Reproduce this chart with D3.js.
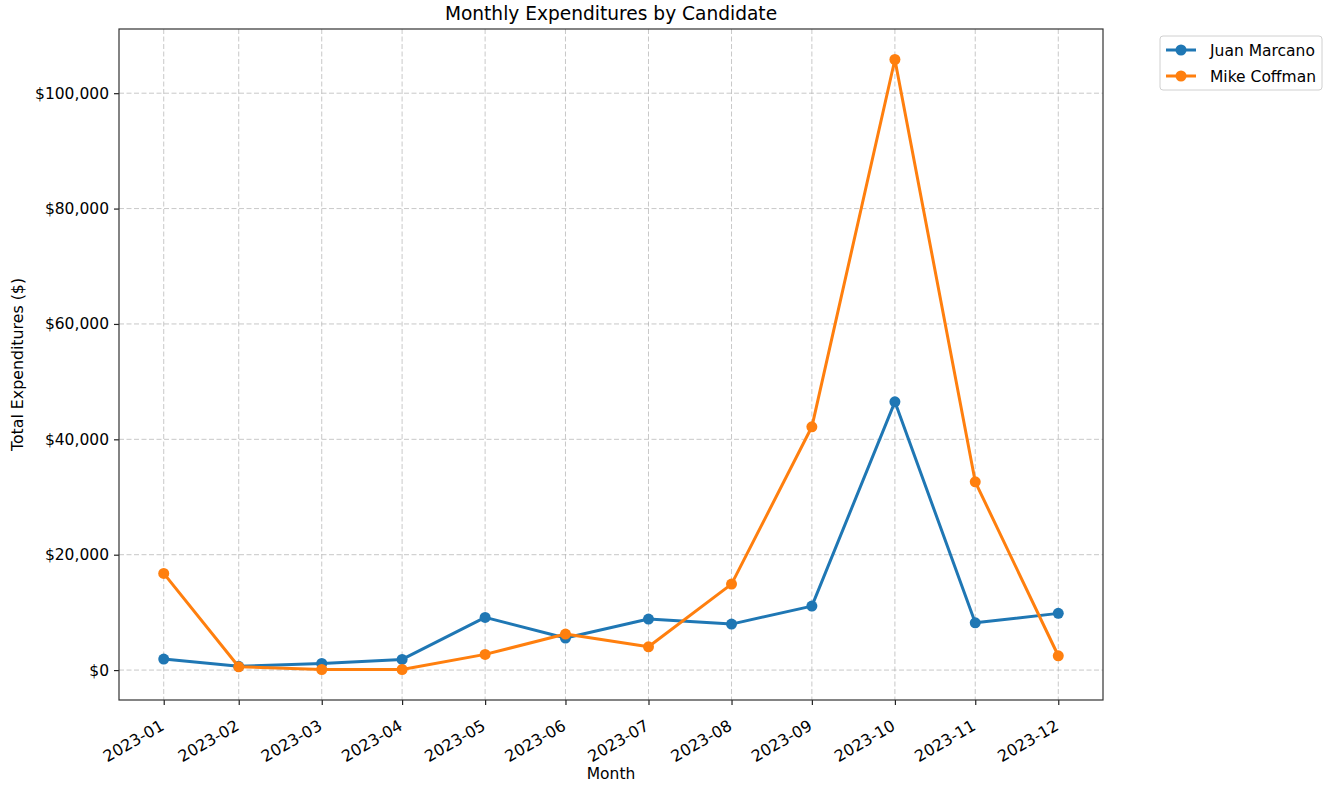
<!DOCTYPE html>
<html>
<head>
<meta charset="utf-8">
<script src="https://cdn.jsdelivr.net/npm/d3@7"></script>
<style>
  body { margin: 0; background: #fff; }
  svg { display: block; font-family: "DejaVu Sans", sans-serif; }
</style>
</head>
<body>
<div id="chart"></div>
<script>
// month-end dates, as plotted
const months = ["2023-01-31", "2023-02-28", "2023-03-31", "2023-04-30", "2023-05-31", "2023-06-30",
                "2023-07-31", "2023-08-31", "2023-09-30", "2023-10-31", "2023-11-30", "2023-12-31"];
const juanMarcano = [1900, 650, 1150, 1850, 9130, 5550, 8840, 7970, 11090, 46500, 8200, 9830];
const mikeCoffman = [16760, 570, 100, 100, 2720, 6240, 4040, 14900, 42170, 105840, 32640, 2480];
const seriesNames = ["Juan Marcano", "Mike Coffman"];
const seriesColors = ["#1f77b4", "#ff7f0e"];
const yTicks = [0, 20000, 40000, 60000, 80000, 100000];

const W = 1331, H = 786;
const margin = {top: 29, right: 228, bottom: 86, left: 119};
const width = W - margin.left - margin.right,
      height = H - margin.top - margin.bottom;
const FONT = "DejaVu Sans";

const parse = d3.timeParse("%Y-%m-%d");
const dates = months.map(parse);
const series = [juanMarcano, mikeCoffman].map((vals, i) => ({
    name: seriesNames[i],
    color: seriesColors[i],
    values: vals.map((v, j) => ({date: dates[j], value: v}))
}));

const svg = d3.select("#chart").append("svg")
    .attr("width", W)
    .attr("height", H);

const g = svg.append("g")
    .attr("transform", `translate(${margin.left},${margin.top})`);

// matplotlib-like 5% margins
const xExt = d3.extent(dates);
const xPad = (xExt[1] - xExt[0]) * 0.05;
const x = d3.scaleTime()
    .domain([new Date(+xExt[0] - xPad), new Date(+xExt[1] + xPad)])
    .range([0, width]);

const allVals = juanMarcano.concat(mikeCoffman);
const yMin = d3.min(allVals), yMax = d3.max(allVals);
const yPad = (yMax - yMin) * 0.05;
const y = d3.scaleLinear()
    .domain([yMin - yPad, yMax + yPad])
    .range([height, 0]);

// grid
g.append("g").selectAll("line")
    .data(dates)
    .enter().append("line")
    .attr("x1", d => x(d)).attr("x2", d => x(d))
    .attr("y1", 0).attr("y2", height)
    .attr("stroke", "#b0b0b0").attr("stroke-opacity", 0.7)
    .attr("stroke-dasharray", "5,2.5").attr("stroke-width", 1);

g.append("g").selectAll("line")
    .data(yTicks)
    .enter().append("line")
    .attr("x1", 0).attr("x2", width)
    .attr("y1", d => y(d)).attr("y2", d => y(d))
    .attr("stroke", "#b0b0b0").attr("stroke-opacity", 0.7)
    .attr("stroke-dasharray", "5,2.5").attr("stroke-width", 1);

// axes
const fmtMonth = d3.timeFormat("%Y-%m");
const xAxis = g.append("g")
    .attr("transform", `translate(0,${height})`)
    .call(d3.axisBottom(x).tickValues(dates).tickFormat(fmtMonth).tickSizeOuter(0).tickSize(5));
xAxis.attr("font-family", FONT).attr("font-size", 16);
xAxis.select(".domain").remove();
xAxis.selectAll("text")
    .attr("fill", "#000")
    .attr("dy", null)
    .attr("y", null)
    .style("text-anchor", "end")
    .attr("transform", "translate(1,29)rotate(-30)");

const fmtMoney = d3.format("$,.0f");
const yAxis = g.append("g")
    .call(d3.axisLeft(y).tickValues(yTicks).tickFormat(fmtMoney).tickSizeOuter(0).tickSize(5).tickPadding(5));
yAxis.attr("font-family", FONT).attr("font-size", 15.5);
yAxis.select(".domain").remove();
yAxis.selectAll("text").attr("fill", "#000");
svg.selectAll(".tick line").attr("stroke", "#222").attr("stroke-width", 1.2);

// frame
g.append("rect")
    .attr("width", width).attr("height", height)
    .attr("fill", "none").attr("stroke", "#333").attr("stroke-width", 1.2);

// lines
const line = d3.line()
    .x(d => x(d.date))
    .y(d => y(d.value));

series.forEach(s => {
    g.append("path")
        .datum(s.values)
        .attr("fill", "none")
        .attr("stroke", s.color)
        .attr("stroke-width", 3)
        .attr("stroke-linejoin", "round")
        .attr("d", line);
    g.append("g").selectAll("circle")
        .data(s.values)
        .enter().append("circle")
        .attr("cx", d => x(d.date))
        .attr("cy", d => y(d.value))
        .attr("r", 5.5)
        .attr("fill", s.color);
});

// title & labels
svg.append("text")
    .attr("x", margin.left + width / 2).attr("y", 20)
    .attr("text-anchor", "middle").attr("font-size", 18.6)
    .text("Monthly Expenditures by Candidate");

svg.append("text")
    .attr("x", margin.left + width / 2).attr("y", 779)
    .attr("text-anchor", "middle").attr("font-size", 15.5)
    .text("Month");

svg.append("text")
    .attr("transform", `translate(23,${margin.top + height / 2})rotate(-90)`)
    .attr("text-anchor", "middle").attr("font-size", 15.8)
    .text("Total Expenditures ($)");

// legend
const lg = svg.append("g").attr("transform", "translate(1160,36)");
lg.append("rect")
    .attr("width", 162).attr("height", 54).attr("rx", 3)
    .attr("fill", "#fff").attr("stroke", "#d0d0d0").attr("stroke-width", 1);
series.forEach((s, i) => {
    const ly = 14 + i * 26;
    lg.append("line")
        .attr("x1", 6).attr("x2", 36).attr("y1", ly).attr("y2", ly)
        .attr("stroke", s.color).attr("stroke-width", 3);
    lg.append("circle")
        .attr("cx", 21).attr("cy", ly).attr("r", 5.5).attr("fill", s.color);
    lg.append("text")
        .attr("x", 50).attr("y", ly + 5.5).attr("font-size", 15.5)
        .text(s.name);
});
</script>
</body>
</html>
